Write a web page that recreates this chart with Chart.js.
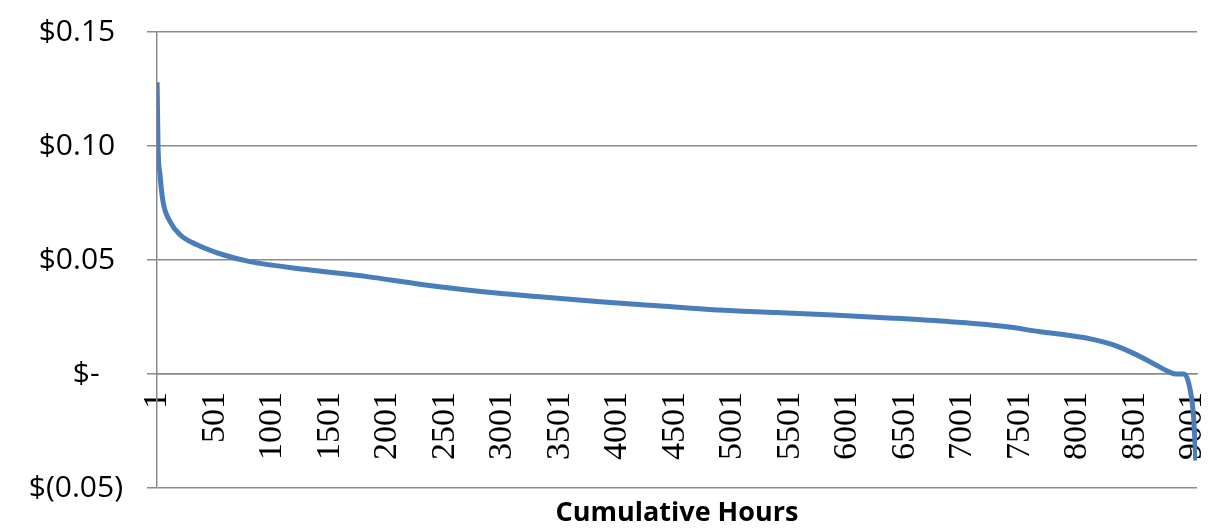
<!DOCTYPE html>
<html>
<head>
<meta charset="utf-8">
<title>Price Duration Curve</title>
<script src="https://cdn.jsdelivr.net/npm/chart.js@4/dist/chart.umd.min.js"></script>
<style>
  html, body { margin: 0; padding: 0; background: #ffffff; }
  #wrap { width: 1208px; height: 528px; }
</style>
</head>
<body>
<div id="wrap"><canvas id="chart" width="1208" height="528"></canvas></div>
<script>
// Hourly prices sorted high to low (price duration curve)
const hours = [1, 9, 26, 52, 113, 200, 348, 574, 809, 1300, 1826, 2300, 2835, 3350, 3852, 4350, 4870, 5380, 5878, 6400, 6896, 7391, 7678, 7900, 8113, 8313, 8461, 8635, 8783, 8852, 8922, 8965, 9009, 9030];
const prices = [0.128, 0.100, 0.0875, 0.0757, 0.0669, 0.0611, 0.0567, 0.0523, 0.0493, 0.0458, 0.0427, 0.0393, 0.0361, 0.0338, 0.0317, 0.0299, 0.0281, 0.0270, 0.0259, 0.0245, 0.0229, 0.0207, 0.0185, 0.0171, 0.0154, 0.0128, 0.0097, 0.0053, 0.0013, 0.0000, 0.0000, -0.0035, -0.018, -0.038];

// Axis ticks
const xTickValues = [1, 501, 1001, 1501, 2001, 2501, 3001, 3501, 4001, 4501, 5001, 5501, 6001, 6501, 7001, 7501, 8001, 8501, 9001];
const yTickValues = [-0.05, 0, 0.05, 0.10, 0.15];
const yTickLabels = ['$(0.05)', '$-   ', '$0.05 ', '$0.10 ', '$0.15 '];

const gridColor = '#8a8a8a';

// Keep the plot area fixed by dropping the label overhang padding
function noOverhang(s) {
  s.paddingLeft = 0; s.paddingRight = 0; s.paddingTop = 0; s.paddingBottom = 0;
}

new Chart(document.getElementById('chart'), {
  type: 'line',
  data: {
    datasets: [{
      data: hours.map((h, i) => ({ x: h, y: prices[i] })),
      borderColor: '#4A7EBB',
      borderWidth: 5,
      pointRadius: 0,
      cubicInterpolationMode: 'monotone',
      fill: false
    }]
  },
  options: {
    responsive: false,
    animation: false,
    layout: { padding: { left: 0, right: 11, top: 32, bottom: 0 } },
    plugins: {
      legend: { display: false },
      tooltip: { enabled: false },
      title: {
        display: true,
        position: 'bottom',
        fullSize: false,
        text: 'Cumulative Hours',
        color: '#000000',
        font: { family: 'Open Sans', size: 27, weight: 'bold', lineHeight: 1 },
        padding: { top: 12, bottom: 1 }
      }
    },
    scales: {
      x: {
        type: 'linear',
        min: 0,
        max: 9040,
        position: { y: 0 },
        afterBuildTicks: s => { s.ticks = xTickValues.map(v => ({ value: v })); },
        afterFit: s => { s.height = 0; noOverhang(s); },
        grid: { display: false, drawTicks: false },
        border: { display: true, color: gridColor, width: 1.5 },
        ticks: {
          autoSkip: false,
          minRotation: 90,
          maxRotation: 90,
          padding: 18,
          color: '#000000',
          font: { family: 'Liberation Serif', size: 34 },
          callback: v => String(v)
        }
      },
      y: {
        type: 'linear',
        min: -0.05,
        max: 0.15,
        afterBuildTicks: s => { s.ticks = yTickValues.map(v => ({ value: v })); },
        afterFit: s => { s.width = 157; noOverhang(s); },
        grid: { color: gridColor, lineWidth: 1.5, tickLength: 10, drawTicks: true },
        border: { display: true, color: gridColor, width: 1.5 },
        ticks: {
          padding: 24,
          color: '#000000',
          font: { family: 'Open Sans', size: 30 },
          callback: v => {
            const i = yTickValues.findIndex(t => Math.abs(t - v) < 1e-9);
            return i >= 0 ? yTickLabels[i] : '';
          }
        }
      }
    }
  }
});
</script>
</body>
</html>
